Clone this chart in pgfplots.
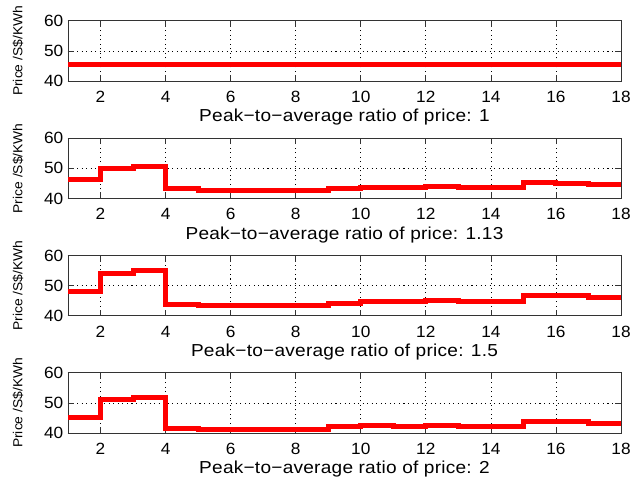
\documentclass[border=0pt]{standalone}
\usepackage{fontspec}
\setmainfont{Liberation Sans}
\newfontfamily\tickfont[FakeStretch=1.06]{Liberation Sans}
\newfontfamily\labfont[FakeStretch=1.1,LetterSpace=1.4]{Liberation Sans}
\newfontfamily\ylabfont[FakeStretch=1.06]{Liberation Sans}
\usepackage{pgfplots}
\pgfplotsset{compat=1.18}
\pgfplotsset{
  panel/.style={
    scale only axis,
    width=414.75pt, height=45.2pt,
    anchor=south west,
    xmin=1, xmax=18, ymin=40, ymax=60,
    xtick={2,4,...,18}, ytick={40,50,60},
    tick pos=both, tick align=inside,
    major tick length=4.5pt,
    tick style={black!80, line width=0.5pt},
    axis line style={black!80, line width=0.6pt},
    grid=major,
    major grid style={black, line width=0.5pt, dash pattern=on 0.8pt off 2.6pt},
    /pgf/number format/assume math mode=true,
    ticklabel style={font=\tickfont\fontsize{12.2}{14}\selectfont},
    xticklabel style={yshift=-4pt},
    xlabel style={at={(axis description cs:0.5,0)}, anchor=base, yshift=-30.5pt, font=\labfont\fontsize{13}{15}\selectfont},
    ylabel style={at={(axis description cs:0,0.5)}, anchor=center, yshift=37.5pt, font=\ylabfont\fontsize{9.8}{11}\selectfont},
    ylabel={Price /S\$/KWh},
  },
  step/.style={red, line width=3.75pt, line join=miter, const plot, mark=none},
}
\begin{document}
\begin{tikzpicture}
\useasboundingbox (0,0) rectangle (481.5pt,360.75pt);
\begin{axis}[panel, at={(51pt,300pt)}, xlabel={Peak−to−average ratio of price: 1}]
\addplot[step] coordinates {(1,45.5) (18,45.5)};
\end{axis}
\begin{axis}[panel, at={(51pt,211.9pt)}, xlabel={Peak−to−average ratio of price: 1.13}]
\addplot[step] coordinates {(1,46.3) (2,50.0) (3,50.7) (4,43.2) (5,42.6) (6,42.6) (7,42.6) (8,42.6) (9,43.3) (10,43.8) (11,43.8) (12,44.0) (13,43.6) (14,43.6) (15,45.2) (16,45.0) (17,44.7) (18,44.7)};
\end{axis}
\begin{axis}[panel, at={(51pt,123.9pt)}, xlabel={Peak−to−average ratio of price: 1.5}]
\addplot[step] coordinates {(1,48.2) (2,54.0) (3,54.9) (4,43.8) (5,43.3) (6,43.3) (7,43.3) (8,43.3) (9,44.2) (10,44.6) (11,44.6) (12,45.1) (13,44.6) (14,44.6) (15,46.7) (16,46.7) (17,46.1) (18,46.1)};
\end{axis}
\begin{axis}[panel, at={(51pt,36pt)}, xlabel={Peak−to−average ratio of price: 2}]
\addplot[step] coordinates {(1,45.0) (2,51.0) (3,51.7) (4,41.4) (5,41.0) (6,41.0) (7,41.0) (8,41.0) (9,42.1) (10,42.4) (11,42.0) (12,42.6) (13,42.1) (14,42.1) (15,43.9) (16,43.7) (17,43.2) (18,43.2)};
\end{axis}
\end{tikzpicture}
\end{document}
